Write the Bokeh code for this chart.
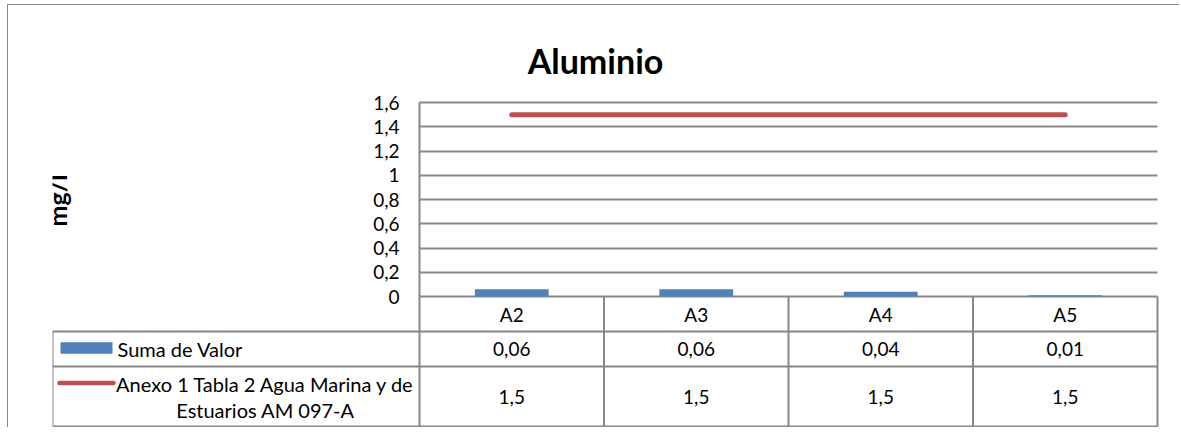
from math import pi
from bokeh.plotting import figure
from bokeh.models import Range1d, FixedTicker, LinearAxis, ColumnDataSource
from bokeh.core.properties import value
from bokeh.embed import file_html
from bokeh.resources import INLINE

# ---------------- data ----------------
categories = ["A2", "A3", "A4", "A5"]
suma_valor = [0.06, 0.06, 0.04, 0.01]
limite_am097a = [1.5, 1.5, 1.5, 1.5]
y_ticks = [0, 0.2, 0.4, 0.6, 0.8, 1.0, 1.2, 1.4, 1.6]
y_tick_labels = ["0", "0,2", "0,4", "0,6", "0,8", "1", "1,2", "1,4", "1,6"]
title_text = "Aluminio"
y_label = "mg/l"
bar_series_name = "Suma de Valor"
line_series_name = ["Anexo 1 Tabla 2 Agua Marina y de", "Estuarios AM 097-A"]


def fmt_num(v, nd=None):
    s = ("%.*f" % (nd, v)) if nd is not None else ("%g" % v)
    return s.replace(".", ",")


suma_labels = [fmt_num(v, 2) for v in suma_valor]
limite_labels = [fmt_num(v) for v in limite_am097a]

# ---------------- style / layout (page pixels) ----------------
FONT = "Lato"
BLUE = "#4f81bd"
RED = "#c0504d"
GRID = "#878787"
MARGIN_TOP, MARGIN_LEFT = 4, 7      # outer chart border position
X0 = MARGIN_LEFT + 1                # canvas origin on the page (after 1px border)
Y0 = MARGIN_TOP + 1
W, H = 1172, 423
plot_left, plot_right = 419, 1157
plot_top, plot_bottom = 102, 296
table_left = 52
frame_left, frame_right = 52, 1160
row_lines_px = [331, 366, 426]
ymax = y_ticks[-1]
ncol = len(categories)
col_w = (plot_right - plot_left) / ncol
px_per = (plot_bottom - plot_top) / ymax


def bx(px):
    return (px - plot_left) / col_w


def py(px):
    return (plot_bottom - px) / px_per


p = figure(width=W, height=H,
           x_range=Range1d(bx(frame_left), bx(frame_right)),
           y_range=Range1d(py(Y0 + H), py(Y0)),
           x_axis_location=None, y_axis_location=None,
           min_border_left=frame_left - X0, min_border_right=X0 + W - frame_right,
           min_border_top=0, min_border_bottom=0,
           output_backend="svg", toolbar_location=None, title=None)
p.margin = (MARGIN_TOP, 0, 0, MARGIN_LEFT)
p.styles = {"border-left": "1px solid #878787", "border-top": "1px solid #878787",
            "border-right": "0px none", "border-bottom": "0px none"}
p.outline_line_color = None
p.background_fill_color = "white"
p.border_fill_color = "white"
p.xgrid.visible = False

# horizontal gridlines only across the plot area
p.ygrid.ticker = FixedTicker(ticks=y_ticks)
p.ygrid.bounds = (0, ymax)
p.ygrid.cross_bounds = (0, ncol)
p.ygrid.grid_line_color = GRID
p.ygrid.grid_line_width = 2

# value axis sitting at the left edge of the plot area
yaxis = LinearAxis(fixed_location=0, ticker=FixedTicker(ticks=y_ticks),
                   major_label_overrides=dict(zip(y_ticks, y_tick_labels)),
                   bounds=(0, ymax))
yaxis.axis_line_color = GRID
yaxis.axis_line_width = 2
yaxis.major_tick_line_color = None
yaxis.minor_tick_line_color = None
yaxis.major_tick_in = 0
yaxis.major_tick_out = 0
yaxis.major_label_standoff = 20
yaxis.major_label_text_font = FONT
yaxis.major_label_text_font_size = "19px"
yaxis.major_label_text_color = "black"
p.add_layout(yaxis, "left")

xc = [i + 0.5 for i in range(ncol)]
src = ColumnDataSource(dict(x=xc, cat=categories, suma=suma_valor, lim=limite_am097a,
                            suma_t=suma_labels, lim_t=limite_labels))
p.vbar(x="x", top="suma", width=0.4, source=src, fill_color=BLUE, line_color=None)
p.line(x="x", y="lim", source=src, line_color=RED, line_width=5, line_cap="round")

# title and axis title
p.text(x=[bx(595)], y=[py(59.5)], text=[title_text], text_font=value(FONT),
       text_font_style="bold", text_font_size="34px", text_color="black",
       text_align="center", text_baseline="alphabetic")
p.text(x=[bx(56.5)], y=[py(200)], text=[y_label], angle=pi / 2, text_font=value(FONT),
       text_font_style="bold", text_font_size="25px", text_color="black",
       text_align="center", text_baseline="middle")

# ---------------- data table ----------------
tl = bx(table_left)
yb = [py(v) for v in row_lines_px]
p.segment(x0=list(range(ncol + 1)), x1=list(range(ncol + 1)),
          y0=[0] * (ncol + 1), y1=[yb[-1]] * (ncol + 1),
          line_color=GRID, line_width=2)
p.segment(x0=[tl], x1=[tl], y0=[yb[0]], y1=[yb[-1]], line_color=GRID, line_width=2)
p.segment(x0=[tl] * len(yb), x1=[ncol] * len(yb), y0=yb, y1=yb,
          line_color=GRID, line_width=2)

common = dict(text_font=value(FONT), text_font_size="19px", text_color="black",
              text_align="center", text_baseline="middle")
p.text(x="x", y=py(313.5), text="cat", source=src, **common)
p.text(x="x", y=py(348.5), text="suma_t", source=src, **common)
p.text(x="x", y=py(396), text="lim_t", source=src, **common)

# legend keys inside the table
p.quad(left=[bx(60)], right=[bx(112)], top=[py(341.7)], bottom=[py(353.3)],
       fill_color=BLUE, line_color=None)
p.segment(x0=[bx(59)], x1=[bx(113)], y0=[py(382.5)], y1=[py(382.5)], line_color=RED,
          line_width=4.5, line_cap="round")
p.text(x=[bx(117)], y=[py(348.5)], text=[bar_series_name], text_font=value(FONT),
       text_font_size="20px", text_color="black", text_align="left", text_baseline="middle")
p.text(x=[bx(265)] * 2, y=[py(383), py(409.5)], text=line_series_name, text_font=value(FONT),
       text_font_size="20px", text_color="black", text_align="center", text_baseline="middle")

open("out.html", "w").write(file_html(p, INLINE))
